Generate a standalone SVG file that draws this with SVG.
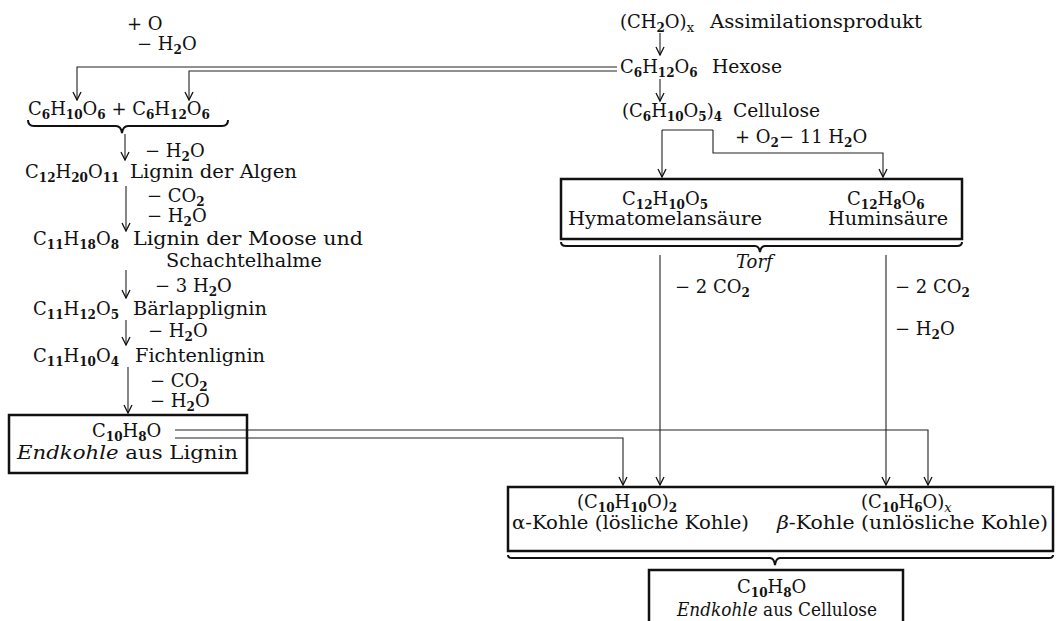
<svg xmlns="http://www.w3.org/2000/svg" width="1057" height="621" viewBox="0 0 1057 621">
<style>
text { font-family: "DejaVu Serif", "Liberation Serif", serif; font-size: 18px; fill: #111; }
.s { font-size: 12px; font-weight: bold; baseline-shift: -4px; }
.sx { font-size: 13px; font-weight: normal; baseline-shift: -4px; }
.i { font-style: italic; }
.ln { stroke: #222; stroke-width: 1.1; fill: none; }
.box { stroke: #111; stroke-width: 2.5; fill: none; }
.br { stroke: #111; stroke-width: 2; fill: none; }
</style>
<defs>
<marker id="ah" markerUnits="userSpaceOnUse" viewBox="-1 -5 10 10" markerWidth="10" markerHeight="10" refX="8" refY="0" orient="auto">
<path d="M0,-4 L8,0 L0,4" fill="none" stroke="#111" stroke-width="1.3"/>
</marker>
</defs>
<rect width="1057" height="621" fill="#fff"/>

<g id="connectors">
<path class="ln" d="M617,67 H77 V100" marker-end="url(#ah)"/>
<path class="ln" d="M617,71 H189 V100" marker-end="url(#ah)"/>
<path class="ln" d="M660,33 V55" marker-end="url(#ah)"/>
<path class="ln" d="M660,79 V101" marker-end="url(#ah)"/>
<path class="ln" d="M125,134 V160" marker-end="url(#ah)"/>
<path class="ln" d="M126,186 V231" marker-end="url(#ah)"/>
<path class="ln" d="M126,270 V298" marker-end="url(#ah)"/>
<path class="ln" d="M126,320 V345" marker-end="url(#ah)"/>
<path class="ln" d="M128,367 V413" marker-end="url(#ah)"/>
<path class="ln" d="M662,130 H713" />
<path class="ln" d="M662,130 V177" marker-end="url(#ah)"/>
<path class="ln" d="M713,130 V153 H883 V177" marker-end="url(#ah)"/>
<path class="ln" d="M660,255 V485" marker-end="url(#ah)"/>
<path class="ln" d="M886,255 V485" marker-end="url(#ah)"/>
<path class="ln" d="M175,430 H928 V485" marker-end="url(#ah)"/>
<path class="ln" d="M175,438 H623 V485" marker-end="url(#ah)"/>
</g>

<g id="edge-labels">
<text x="127" y="30">+ O</text>
<text x="137" y="50">− H<tspan class="s">2</tspan>O</text>
<text x="145" y="157">− H<tspan class="s">2</tspan>O</text>
<text x="147" y="202">− CO<tspan class="s">2</tspan></text>
<text x="147" y="222">− H<tspan class="s">2</tspan>O</text>
<text x="155" y="292">− 3 H<tspan class="s">2</tspan>O</text>
<text x="148" y="337">− H<tspan class="s">2</tspan>O</text>
<text x="150" y="387">− CO<tspan class="s">2</tspan></text>
<text x="150" y="407">− H<tspan class="s">2</tspan>O</text>
<text x="735" y="143">+ O<tspan class="s">2</tspan>− 11 H<tspan class="s">2</tspan>O</text>
<text x="675" y="293">− 2 CO<tspan class="s">2</tspan></text>
<text x="895" y="293">− 2 CO<tspan class="s">2</tspan></text>
<text x="895" y="335">− H<tspan class="s">2</tspan>O</text>
</g>

<g id="n-assim">
<text x="620" y="28">(CH<tspan class="s">2</tspan>O)<tspan class="sx">x</tspan></text>
<text x="710" y="28" textLength="212" lengthAdjust="spacingAndGlyphs">Assimilationsprodukt</text>
</g>
<g id="n-hexose">
<text x="620" y="73">C<tspan class="s">6</tspan>H<tspan class="s">12</tspan>O<tspan class="s">6</tspan></text>
<text x="712" y="73" textLength="70" lengthAdjust="spacingAndGlyphs">Hexose</text>
</g>
<g id="n-cellulose">
<text x="622" y="117">(C<tspan class="s">6</tspan>H<tspan class="s">10</tspan>O<tspan class="s">5</tspan>)<tspan class="s">4</tspan></text>
<text x="733" y="117" textLength="87" lengthAdjust="spacingAndGlyphs">Cellulose</text>
</g>

<g id="n-c6mix">
<text x="28" y="115">C<tspan class="s">6</tspan>H<tspan class="s">10</tspan>O<tspan class="s">6</tspan> + C<tspan class="s">6</tspan>H<tspan class="s">12</tspan>O<tspan class="s">6</tspan></text>
<path class="br" d="M28,120 Q28,126 34,126 H116 Q121,126 122,133 Q123,126 128,126 H222 Q228,126 228,120"/>
</g>
<g id="n-algen">
<text x="25" y="178">C<tspan class="s">12</tspan>H<tspan class="s">20</tspan>O<tspan class="s">11</tspan></text>
<text x="130" y="178" textLength="167" lengthAdjust="spacingAndGlyphs">Lignin der Algen</text>
</g>
<g id="n-moose">
<text x="33" y="245">C<tspan class="s">11</tspan>H<tspan class="s">18</tspan>O<tspan class="s">8</tspan></text>
<text x="133" y="245" textLength="230" lengthAdjust="spacingAndGlyphs">Lignin der Moose und</text>
<text x="166" y="267" textLength="156" lengthAdjust="spacingAndGlyphs">Schachtelhalme</text>
</g>
<g id="n-baerlapp">
<text x="33" y="315">C<tspan class="s">11</tspan>H<tspan class="s">12</tspan>O<tspan class="s">5</tspan></text>
<text x="133" y="315" textLength="134" lengthAdjust="spacingAndGlyphs">Bärlapplignin</text>
</g>
<g id="n-fichte">
<text x="33" y="362">C<tspan class="s">11</tspan>H<tspan class="s">10</tspan>O<tspan class="s">4</tspan></text>
<text x="135" y="362" textLength="130" lengthAdjust="spacingAndGlyphs">Fichtenlignin</text>
</g>
<g id="n-endlignin">
<rect class="box" x="9" y="415" width="238" height="58"/>
<text x="92" y="437">C<tspan class="s">10</tspan>H<tspan class="s">8</tspan>O</text>
<text x="17" y="459" textLength="221" lengthAdjust="spacingAndGlyphs"><tspan class="i">Endkohle</tspan> aus  Lignin</text>
</g>

<g id="n-torf">
<rect class="box" x="561" y="179" width="401" height="60"/>
<text x="622" y="205">C<tspan class="s">12</tspan>H<tspan class="s">10</tspan>O<tspan class="s">5</tspan></text>
<text x="568" y="225" textLength="194" lengthAdjust="spacingAndGlyphs">Hymatomelansäure</text>
<text x="847" y="205">C<tspan class="s">12</tspan>H<tspan class="s">8</tspan>O<tspan class="s">6</tspan></text>
<text x="828" y="225" textLength="120" lengthAdjust="spacingAndGlyphs">Huminsäure</text>
<path class="br" d="M561,242 Q561,246 566,246 H755 Q759,246 760,252 Q761,246 765,246 H957 Q962,246 962,242"/>
<text x="736" y="268" class="i">Torf</text>
</g>

<g id="n-kohle">
<rect class="box" x="508" y="487" width="545" height="64"/>
<text x="577" y="508">(C<tspan class="s">10</tspan>H<tspan class="s">10</tspan>O)<tspan class="s">2</tspan></text>
<text x="512" y="529" textLength="237" lengthAdjust="spacingAndGlyphs">α-Kohle (lösliche Kohle)</text>
<text x="861" y="508">(C<tspan class="s">10</tspan>H<tspan class="s">6</tspan>O)<tspan class="sx i">x</tspan></text>
<text x="777" y="529" textLength="271" lengthAdjust="spacingAndGlyphs"><tspan class="i">β</tspan>-Kohle (unlösliche Kohle)</text>
<path class="br" d="M508,555 Q508,558 512,558 H770 Q774,558 775,565 Q776,558 780,558 H1049 Q1053,558 1053,555"/>
</g>

<g id="n-endcell">
<rect class="box" x="649" y="570" width="254" height="60"/>
<text x="737" y="593">C<tspan class="s">10</tspan>H<tspan class="s">8</tspan>O</text>
<text x="677" y="616" textLength="200" lengthAdjust="spacingAndGlyphs"><tspan class="i">Endkohle</tspan> aus Cellulose</text>
</g>
</svg>
